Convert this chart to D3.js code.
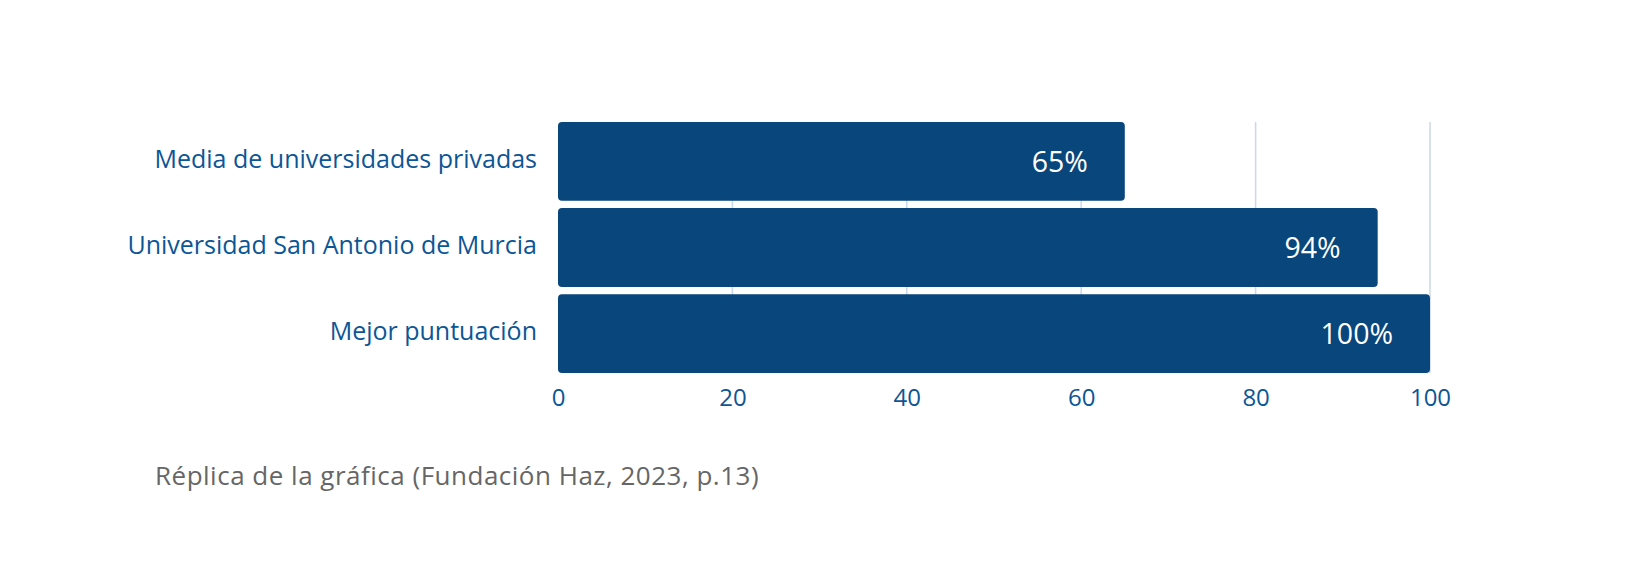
<!DOCTYPE html>
<html>
<head>
<meta charset="utf-8">
<script src="https://cdn.jsdelivr.net/npm/d3@7"></script>
<style>
  html, body { margin: 0; padding: 0; background: #fff; }
  svg { display: block; font-family: "Open Sans", "Noto Sans", sans-serif; }
</style>
</head>
<body>
<svg id="chart" width="1628" height="587"></svg>
<script>
// data
const categories = ["Media de universidades privadas", "Universidad San Antonio de Murcia", "Mejor puntuación"];
const values = [65, 94, 100];
const ticks = [0, 20, 40, 60, 80, 100];
const caption = "Réplica de la gráfica (Fundación Haz, 2023, p.13)";

const svg = d3.select("#chart");
const plotLeft = 558, plotRight = 1430, plotTop = 122, plotBottom = 373;

const x = d3.scaleLinear().domain([0, 100]).range([plotLeft, plotRight]);
const y = d3.scaleBand().domain(categories).range([plotTop, plotBottom]).paddingInner(0.085);

// gridlines
svg.append("g")
    .selectAll("line")
    .data(ticks.filter(t => t > 0))
    .enter().append("line")
    .attr("x1", d => x(d)).attr("x2", d => x(d))
    .attr("y1", plotTop).attr("y2", plotBottom)
    .attr("stroke", "#cbd8e6")
    .attr("stroke-width", 1.5);

// bars
svg.append("g")
    .selectAll("rect")
    .data(values)
    .enter().append("rect")
    .attr("x", x(0))
    .attr("y", (d, i) => y(categories[i]))
    .attr("width", d => x(d) - x(0))
    .attr("height", y.bandwidth())
    .attr("rx", 4)
    .attr("fill", "#08467c");

// value labels
svg.append("g")
    .selectAll("text")
    .data(values)
    .enter().append("text")
    .attr("x", d => x(d) - 37)
    .attr("y", (d, i) => y(categories[i]) + y.bandwidth() / 2)
    .attr("dy", "0.36em")
    .attr("text-anchor", "end")
    .attr("fill", "#ffffff")
    .attr("font-size", 28.5)
    .text(d => d + "%");

// category axis
const yAxis = svg.append("g")
    .attr("transform", `translate(${plotLeft},0)`)
    .call(d3.axisLeft(y).tickSize(0).tickPadding(21));
yAxis.select(".domain").remove();
yAxis.selectAll("text")
    .attr("dy", "0.26em")
    .attr("font-size", 25)
    .attr("font-family", "'Open Sans', 'Noto Sans', sans-serif")
    .attr("fill", "#0c5695");

// value axis
const xAxis = svg.append("g")
    .attr("transform", `translate(0,${plotBottom})`)
    .call(d3.axisBottom(x).tickValues(ticks).tickSize(0).tickPadding(16));
xAxis.select(".domain").remove();
xAxis.selectAll("text")
    .attr("font-size", 24)
    .attr("font-family", "'Open Sans', 'Noto Sans', sans-serif")
    .attr("fill", "#0c5695");

// caption
svg.append("text")
    .attr("x", 155)
    .attr("y", 485)
    .attr("font-size", 26)
    .attr("letter-spacing", 0.5)
    .attr("fill", "#666666")
    .text(caption);
</script>
</body>
</html>
